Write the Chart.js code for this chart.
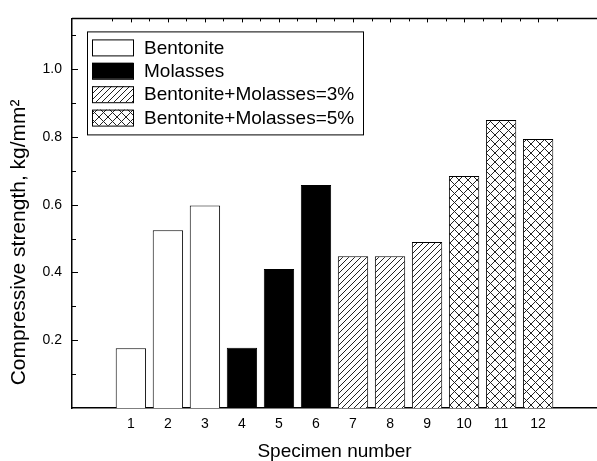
<!DOCTYPE html>
<html lang="en">
<head>
    <meta charset="UTF-8">
    <title>Compressive strength</title>
    <script src="https://cdn.jsdelivr.net/npm/chart.js"></script>
    <style>
        body { margin: 0; background: #ffffff; overflow: hidden; }
        #wrap { width: 597px; height: 461px; }
    </style>
</head>
<body>
    <div id="wrap"><canvas id="strengthChart" width="597" height="461"></canvas></div>
    <script>
        // Data
        const specimens = [1, 2, 3, 4, 5, 6, 7, 8, 9, 10, 11, 12];
        const strength = [0.176, 0.525, 0.598, 0.178, 0.41, 0.658, 0.448, 0.448, 0.49, 0.685, 0.85, 0.794];
        const groupOf = [0, 0, 0, 1, 1, 1, 2, 2, 2, 3, 3, 3];
        const seriesLabels = ['Bentonite', 'Molasses', 'Bentonite+Molasses=3%', 'Bentonite+Molasses=5%'];
        const yTicks = [0.2, 0.4, 0.6, 0.8, 1.0];

        const FONT = "'Liberation Sans', Arial, sans-serif";

        // hatch patterns
        const makePattern = (size, cross) => {
            const c = document.createElement('canvas');
            c.width = size; c.height = size;
            const g = c.getContext('2d');
            g.fillStyle = '#fff';
            g.fillRect(0, 0, size, size);
            g.strokeStyle = '#222';
            g.lineWidth = 1;
            g.beginPath();
            g.moveTo(-1, size + 1); g.lineTo(size + 1, -1);
            if (cross) { g.moveTo(-1, -1); g.lineTo(size + 1, size + 1); }
            g.stroke();
            return g.createPattern(c, 'repeat');
        };
        const ctx = document.getElementById('strengthChart').getContext('2d');
        const fills = ['#ffffff', '#000000', makePattern(6, false), makePattern(9, true)];

        const datasets = seriesLabels.map((label, gi) => ({
            label: label,
            data: specimens.map((s, i) => ({ x: s, y: groupOf[i] === gi ? strength[i] : null })),
            backgroundColor: fills[gi],
            borderColor: '#000',
            borderWidth: 1,
            categoryPercentage: 1,
            barPercentage: 0.82
        }));

        // frame, inward ticks and the boxed legend
        const framePlugin = {
            id: 'frame',
            afterDraw(chart) {
                const { ctx, chartArea: a, scales } = chart;
                const x = scales.x, y = scales.y;
                ctx.save();
                ctx.strokeStyle = '#000';
                ctx.lineWidth = 1.5;
                ctx.beginPath();
                ctx.moveTo(a.left, a.top); ctx.lineTo(a.right + 2, a.top);
                ctx.stroke();
                ctx.lineWidth = 1;
                ctx.beginPath();
                for (let v = 0.1; v < 1.15; v += 0.1) {
                    const py = Math.round(y.getPixelForValue(v)) + 0.5;
                    const major = Math.round(v * 10) % 2 === 0;
                    ctx.moveTo(a.left, py); ctx.lineTo(a.left + (major ? 6 : 4), py);
                }
                for (let v = 0.5; v < 13; v += 0.5) {
                    const px = Math.round(x.getPixelForValue(v)) + 0.5;
                    const major = v % 1 === 0;
                    ctx.moveTo(px, a.top); ctx.lineTo(px, a.top + (major ? 4 : 3));
                }
                ctx.stroke();

                // legend
                const lx = a.left + 15, ly = a.top + 13, lw = 276, lh = 103;
                ctx.fillStyle = '#fff';
                ctx.fillRect(lx, ly, lw, lh);
                ctx.strokeRect(lx + 0.5, ly + 0.5, lw, lh);
                ctx.font = '19px ' + FONT;
                ctx.textBaseline = 'middle';
                chart.data.datasets.forEach((ds, i) => {
                    const cy = ly + 16 + i * 23.4;
                    ctx.fillStyle = ds.backgroundColor;
                    ctx.fillRect(lx + 5, cy - 8, 41, 16);
                    ctx.strokeRect(lx + 5.5, cy - 7.5, 41, 16);
                    ctx.fillStyle = '#000';
                    ctx.fillText(ds.label, lx + 57, cy + 1);
                });
                ctx.restore();
            }
        };

        new Chart(ctx, {
            type: 'bar',
            data: { datasets: datasets },
            options: {
                responsive: false,
                animation: false,
                layout: { padding: { top: 14, right: 0, left: 0, bottom: 0 } },
                plugins: { legend: { display: false }, tooltip: { enabled: false } },
                scales: {
                    x: {
                        type: 'linear',
                        stacked: true,
                        min: 0,
                        max: 13,
                        grid: { display: false, drawTicks: false },
                        border: { display: true, color: '#000', width: 1.5 },
                        afterBuildTicks: (s) => { s.ticks = specimens.map(v => ({ value: v })); },
                        ticks: { color: '#000', font: { family: FONT, size: 14 }, padding: 8, maxRotation: 0,
                            callback: (v) => String(v) },
                        title: { display: true, text: 'Specimen number', color: '#000',
                            font: { family: FONT, size: 19 }, padding: { top: 2, bottom: -2 } },
                        afterFit: (s) => { s.height = 53; }
                    },
                    y: {
                        stacked: true,
                        min: 0,
                        max: 1.15,
                        grid: { display: false, drawTicks: false },
                        border: { display: true, color: '#000', width: 1.5 },
                        afterBuildTicks: (s) => { s.ticks = yTicks.map(v => ({ value: v })); },
                        ticks: { color: '#000', font: { family: FONT, size: 14 }, padding: 10,
                            callback: (v) => v.toFixed(1) },
                        title: { display: true, text: 'Compressive strength, kg/mm\u00B2          ', color: '#000',
                            font: { family: FONT, size: 21 }, padding: { top: 7, bottom: 0 } },
                        afterFit: (s) => { s.width = 72; }
                    }
                }
            },
            plugins: [framePlugin]
        });
    </script>
</body>
</html>
